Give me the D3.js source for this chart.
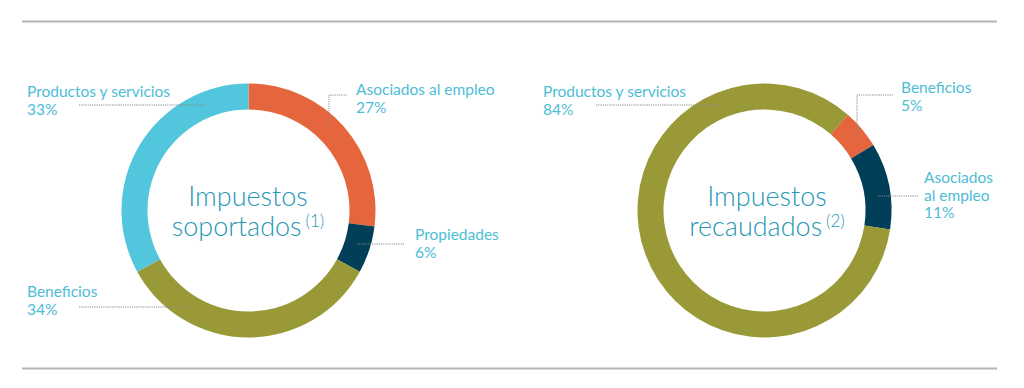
<!DOCTYPE html>
<html>
<head>
<meta charset="utf-8">
<script src="https://cdn.jsdelivr.net/npm/d3@7"></script>
<style>
  body { margin: 0; background: #fff; }
  svg { display: block; font-family: Lato, "Open Sans", sans-serif; }
</style>
</head>
<body>
<div id="chart"></div>
<script>
// data
const leftTitle = ["Impuestos", "soportados"];
const leftNote = "(1)";
const leftCategories = ["Asociados al empleo", "Propiedades", "Beneficios", "Productos y servicios"];
const leftValues = [27, 6, 34, 33];

const rightTitle = ["Impuestos", "recaudados"];
const rightNote = "(2)";
const rightCategories = ["Beneficios", "Asociados al empleo", "Productos y servicios"];
const rightValues = [5, 11, 84];

const width = 1024, height = 388;

const color = d3.scaleOrdinal()
    .domain(["Asociados al empleo", "Propiedades", "Beneficios", "Productos y servicios"])
    .range(["#e5653d", "#003f57", "#9a9937", "#52c6dc"]);

// right chart uses the same names with different colours per category
const colorRight = d3.scaleOrdinal()
    .domain(["Beneficios", "Asociados al empleo", "Productos y servicios"])
    .range(["#e5653d", "#003f57", "#9a9937"]);

const svg = d3.select("#chart")
    .append("svg")
    .attr("width", width)
    .attr("height", height);

// rules top and bottom
svg.append("line")
    .attr("x1", 22).attr("x2", 997).attr("y1", 21.5).attr("y2", 21.5)
    .attr("stroke", "#b4b4b4").attr("stroke-width", 2);
svg.append("line")
    .attr("x1", 22).attr("x2", 997).attr("y1", 368.5).attr("y2", 368.5)
    .attr("stroke", "#b4b4b4").attr("stroke-width", 2);

const outerR = 127, innerR = 101;
const midR = (outerR + innerR) / 2;

// layout of each donut (labels, leaders)
const charts = [
  {
    cx: 248.5, cy: 210.5, rotate: 0,
    cats: leftCategories, vals: leftValues, col: color,
    title: leftTitle, note: leftNote, titleX: 248,
    labels: {
      "Productos y servicios": {x: 27, y: 97, lines: ["Productos y servicios"], anchor: "start",
        leader: {type: "h", y: 105, x0: 79, side: -1}},
      "Asociados al empleo": {x: 356, y: 95, lines: ["Asociados al empleo"], anchor: "start",
        leader: {type: "v", y: 95, x0: 347, xv: 329}},
      "Propiedades": {x: 415, y: 240, lines: ["Propiedades"], anchor: "start",
        leader: {type: "h", y: 244, x0: 404, side: 1}},
      "Beneficios": {x: 27, y: 297, lines: ["Beneficios"], anchor: "start",
        leader: {type: "h", y: 307, x0: 79, side: -1}}
    }
  },
  {
    cx: 764.5, cy: 210.5, rotate: 41,
    cats: rightCategories, vals: rightValues, col: colorRight,
    title: rightTitle, note: rightNote, titleX: 767,
    labels: {
      "Productos y servicios": {x: 543, y: 97, lines: ["Productos y servicios"], anchor: "start",
        leader: {type: "h", y: 105, x0: 596, side: -1}},
      "Beneficios": {x: 901, y: 93, lines: ["Beneficios"], anchor: "start",
        leader: {type: "v", y: 95, x0: 893, xv: 857}},
      "Asociados al empleo": {x: 924, y: 183, lines: ["Asociados", "al empleo"], anchor: "start",
        leader: {type: "h", y: 196, x0: 918, side: 1}}
    }
  }
];

const arc = d3.arc().innerRadius(innerR).outerRadius(outerR);

charts.forEach(c => {
  const data = c.cats.map((k, i) => ({key: k, value: c.vals[i]}));
  const rot = c.rotate * Math.PI / 180;
  const pie = d3.pie()
      .sort(null)
      .value(d => d.value)
      .startAngle(rot)
      .endAngle(rot + 2 * Math.PI);

  const g = svg.append("g")
      .attr("transform", `translate(${c.cx},${c.cy})`);

  g.selectAll("path")
    .data(pie(data))
    .join("path")
      .attr("d", arc)
      .attr("fill", d => c.col(d.data.key));

  // center title
  const t = svg.append("text")
      .attr("text-anchor", "middle")
      .attr("fill", "#2797b4")
      .style("font-weight", 300)
      .style("font-size", "27px");
  t.append("tspan").attr("x", c.titleX).attr("y", 206).text(c.title[0]);
  const t2 = svg.append("text")
      .attr("x", c.titleX).attr("y", 236)
      .attr("text-anchor", "middle")
      .attr("fill", "#2797b4")
      .style("font-weight", 300)
      .style("font-size", "27px");
  t2.append("tspan").text(c.title[1]);
  t2.append("tspan").attr("dx", 4).attr("dy", -9)
      .style("font-size", "17px").style("font-weight", 300).text(c.note);

  // labels + leaders
  data.forEach(d => {
    const L = c.labels[d.key];
    const txt = svg.append("text")
        .attr("fill", "#4dbdd6")
        .attr("text-anchor", L.anchor)
        .style("font-size", "15.5px");
    const lines = L.lines.concat([d.value + "%"]);
    lines.forEach((s, i) => {
      txt.append("tspan").attr("x", L.x).attr("y", L.y + i * 17.5).text(s);
    });

    const ld = L.leader;
    let pts;
    if (ld.type === "h") {
      const dy = ld.y - c.cy;
      const dx = Math.sqrt(midR * midR - dy * dy);
      pts = [[ld.x0, ld.y], [c.cx + ld.side * dx, ld.y]];
    } else {
      const dx = ld.xv - c.cx;
      const dy = Math.sqrt((midR + 3) * (midR + 3) - dx * dx);
      pts = [[ld.x0, ld.y], [ld.xv, ld.y], [ld.xv, c.cy - dy]];
    }
    svg.append("path")
        .attr("d", d3.line()(pts))
        .attr("fill", "none")
        .attr("stroke", "#8a8a8a")
        .attr("stroke-width", 1)
        .attr("stroke-dasharray", "1.2,1");
  });
});
</script>
</body>
</html>
